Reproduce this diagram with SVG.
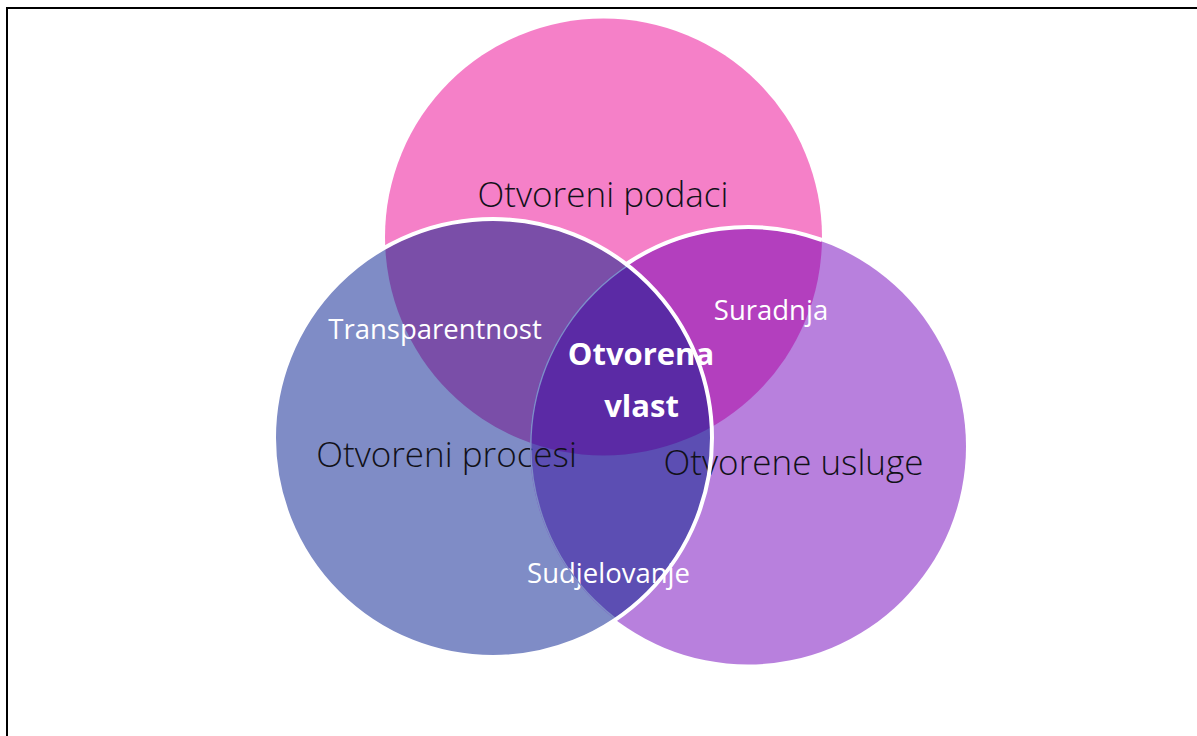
<svg xmlns="http://www.w3.org/2000/svg" width="1197" height="736" viewBox="0 0 1197 736">
<defs>
<style>
.lt{font-family:"Open Sans","Noto Sans","Liberation Sans",sans-serif;font-weight:300;font-size:35px;fill:#111118;text-anchor:middle}
.wt{font-family:"Open Sans","Noto Sans","Liberation Sans",sans-serif;font-weight:400;font-size:27.5px;fill:#ffffff;text-anchor:middle}
.bt{font-family:"Open Sans","Noto Sans","Liberation Sans",sans-serif;font-weight:700;font-size:31px;fill:#ffffff;text-anchor:middle}
</style>
<clipPath id="cPink"><circle cx="603.5" cy="237" r="218.5"/></clipPath>
<clipPath id="cBlue"><circle cx="493" cy="438" r="219"/></clipPath>
<clipPath id="cPurple"><circle cx="748" cy="446.5" r="218"/></clipPath>
</defs>
<rect width="1197" height="736" fill="#ffffff"/>
<path d="M7,736 V8 H1197" fill="none" stroke="#000" stroke-width="2"/>
<g id="node-otvoreni-podaci"><circle cx="603.5" cy="237" r="218.5" fill="#F580C8"/></g>
<g id="node-otvoreni-procesi"><circle cx="493" cy="438" r="219" fill="#7F8CC6"/></g>
<g id="node-otvorene-usluge"><circle cx="748" cy="446.5" r="218" fill="#B880DD"/></g>
<g id="node-transparentnost"><circle cx="493" cy="438" r="219" fill="#7A4EA8" clip-path="url(#cPink)"/></g>
<g id="node-suradnja"><circle cx="748" cy="446.5" r="218" fill="#B33FBE" clip-path="url(#cPink)"/></g>
<g id="node-sudjelovanje"><circle cx="748" cy="446.5" r="218" fill="#5C4EB3" clip-path="url(#cBlue)"/></g>
<g id="node-otvorena-vlast"><g clip-path="url(#cPink)"><circle cx="748" cy="446.5" r="218" fill="#5B2AA5" clip-path="url(#cBlue)"/></g></g>
<g id="labels">
<text id="t-podaci" class="lt" x="603" y="207">Otvoreni podaci</text>
<text id="t-procesi" class="lt" x="446.5" y="467">Otvoreni procesi</text>
<text id="t-usluge" class="lt" x="793.5" y="475">Otvorene usluge</text>
<text id="t-transparentnost" class="wt" x="435" y="339">Transparentnost</text>
<text id="t-suradnja" class="wt" x="771" y="320">Suradnja</text>
<text id="t-sudjelovanje" class="wt" x="608.5" y="583">Sudjelovanje</text>
<text id="t-vlast" class="bt" x="641"><tspan x="641" y="365">Otvorena</tspan><tspan x="641.5" y="417">vlast</tspan></text>
</g>
<g id="outlines" fill="none">
<g clip-path="url(#cPurple)"><circle cx="748" cy="446.5" r="218" stroke="#7F8CC6" stroke-width="3" clip-path="url(#cBlue)"/></g>
<path d="M625,265 A218,218 0 0 1 822,240" stroke="#ffffff" stroke-width="4"/>
<circle cx="493" cy="438" r="219" stroke="#ffffff" stroke-width="4"/>
</g>
<g id="connectors"/>
</svg>
